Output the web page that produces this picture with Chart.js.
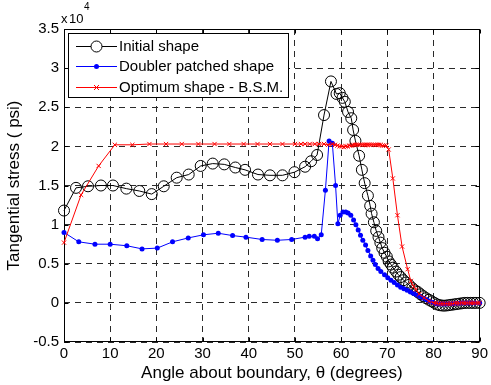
<!DOCTYPE html>
<html>
<head>
<meta charset="utf-8">
<script src="https://cdn.jsdelivr.net/npm/chart.js@4"></script>
<style>
  html, body { margin: 0; padding: 0; background: #fff; }
</style>
</head>
<body>
<canvas id="stress" width="491" height="385"></canvas>
<script>
// tangential stress, in units of 10^4 psi, vs angle about boundary (degrees)
const initialAngle = [0, 2.6, 5.2, 8.0, 10.6, 13.5, 16.3, 19.0, 21.6, 24.4,
  27.0, 29.6, 32.2, 34.7, 37.1, 39.2, 42.0, 44.6, 47.3, 49.9,
  52.2, 53.5, 54.8, 56.3, 57.8, 59.0, 59.7, 60.3, 60.8, 61.5,
  62.2, 62.6, 63.1, 63.9, 64.5, 65.1, 65.8, 66.3, 66.6, 67.1,
  67.6, 68.1, 68.5, 68.9, 69.4, 69.9, 70.3, 70.8, 71.2, 71.9,
  72.4, 72.9, 73.5, 74.1, 74.7, 75.4, 76.0, 76.6, 77.2, 77.8,
  78.4, 79.0, 79.6, 80.2, 80.8, 81.4, 82.0, 82.6, 83.2, 83.8,
  84.4, 85.0, 85.6, 86.2, 86.8, 87.4, 88.0, 88.6, 89.2, 90];
const initialStress = [1.18, 1.47, 1.49, 1.50, 1.50, 1.46, 1.43, 1.39, 1.49, 1.60,
  1.64, 1.75, 1.78, 1.77, 1.73, 1.70, 1.64, 1.63, 1.63, 1.67,
  1.74, 1.81, 1.89, 2.40, 2.83, 2.67, 2.68, 2.62, 2.57, 2.44,
  2.36, 2.21, 2.07, 1.88, 1.70, 1.53, 1.37, 1.24, 1.14, 1.03,
  0.92, 0.84, 0.77, 0.70, 0.64, 0.59, 0.53, 0.49, 0.45, 0.40,
  0.36, 0.33, 0.29, 0.26, 0.23, 0.19, 0.16, 0.14, 0.11, 0.085,
  0.06, 0.04, 0.02, 0.0, -0.02, -0.03, -0.035, -0.035, -0.03, -0.025,
  -0.02, -0.015, -0.01, -0.005, 0.0, 0.0, 0.0, 0.0, 0.0, 0.0];

const doublerAngle = [0, 3.2, 6.7, 10.0, 13.6, 16.9, 20.2, 23.5, 26.9, 30.2,
  33.4, 36.5, 39.4, 42.9, 46.2, 49.3, 52.2, 53.1, 54.2, 54.9,
  55.7, 56.6, 57.4, 58.1, 58.8, 59.3, 59.8, 60.4, 61.0, 61.5,
  62.1, 62.7, 63.2, 63.7, 64.2, 64.7, 65.3, 65.8, 66.4, 66.9,
  67.4, 68.0, 68.6, 69.4, 70.1, 70.8, 71.5, 72.2, 72.9, 73.6,
  74.3, 75.0, 75.7, 76.4, 77.1, 77.8, 78.5, 79.2, 79.9, 80.6,
  81.3, 82.0, 82.7, 83.4, 84.1, 84.8, 85.5, 86.2, 86.9, 87.6,
  88.3, 89.0, 90];
const doublerStress = [0.90, 0.78, 0.75, 0.75, 0.73, 0.69, 0.70, 0.78, 0.83, 0.87,
  0.89, 0.86, 0.84, 0.81, 0.80, 0.81, 0.84, 0.85, 0.85, 0.82,
  0.87, 1.44, 2.07, 2.04, 1.50, 1.01, 1.12, 1.16, 1.16, 1.15,
  1.12, 1.06, 1.00, 0.93, 0.865, 0.80, 0.74, 0.67, 0.60, 0.545,
  0.49, 0.44, 0.40, 0.36, 0.32, 0.29, 0.26, 0.23, 0.20, 0.18,
  0.16, 0.14, 0.12, 0.10, 0.08, 0.06, 0.04, 0.02, 0.005, -0.01,
  -0.015, -0.015, -0.015, -0.01, -0.01, -0.005, -0.005, 0.0, 0.0, 0.0,
  0.0, 0.0, 0.0];

const optimumAngle = [0, 3.7, 7.5, 11.0, 14.8, 18.5, 22.1, 25.5, 29.1, 32.6,
  35.8, 38.9, 41.9, 44.6, 47.3, 50.0, 51.3, 52.2, 53.2, 54.3,
  55.2, 56.3, 57.2, 58.1, 58.7, 59.2, 59.7, 60.2, 60.6, 61.0,
  61.4, 61.8, 62.2, 62.6, 63.0, 63.4, 63.8, 64.2, 64.6, 65.0,
  65.4, 65.8, 66.2, 66.6, 67.0, 67.4, 67.8, 68.2, 68.6, 69.0,
  69.4, 69.8, 70.3, 71.2, 72.2, 73.2, 74.4, 75.1, 75.7, 76.2,
  76.9, 78.0, 79.0, 80.1, 80.6, 81.1, 81.6, 82.1, 82.6, 83.1,
  83.6, 84.1, 84.6, 85.1, 85.6, 86.1, 86.6, 87.1, 87.6, 88.1,
  88.6, 89.1, 89.6, 90];
const optimumStress = [0.77, 1.38, 1.75, 2.02, 2.02, 2.03, 2.03, 2.03, 2.03, 2.03,
  2.03, 2.03, 2.03, 2.03, 2.03, 2.03, 2.03, 2.03, 2.03, 2.03,
  2.03, 2.03, 2.02, 2.03, 2.02, 2.01, 2.00, 2.00, 1.99, 2.00,
  2.00, 2.01, 2.01, 2.02, 2.02, 2.02, 2.02, 2.02, 2.02, 2.02,
  2.02, 2.02, 2.02, 2.02, 2.02, 2.02, 2.02, 2.02, 2.02, 2.01,
  2.01, 2.01, 1.96, 1.59, 1.12, 0.72, 0.43, 0.28, 0.21, 0.17,
  0.11, 0.064, 0.02, 0.0, -0.005, -0.01, -0.01, -0.01, -0.01, -0.01,
  -0.01, -0.01, -0.005, -0.005, -0.005, 0.0, 0.0, 0.0, 0.0, 0.0,
  0.0, 0.0, 0.0, 0.0];

const seriesNames = ["Initial shape", "Doubler patched shape", "Optimum shape - B.S.M."];
const seriesColors = ["#000000", "#0000ff", "#ff0000"];
const xTicks = [0, 10, 20, 30, 40, 50, 60, 70, 80, 90];
const yTicks = [-0.5, 0, 0.5, 1, 1.5, 2, 2.5, 3, 3.5];

const FONT = "Arial, 'Liberation Sans', Helvetica, sans-serif";

const pts = (xs, ys) => xs.map((x, i) => ({ x: x, y: ys[i] }));

// matlab-ish box, inward ticks, exponent label and legend
const matlabBits = {
  id: "matlabBits",
  beforeDatasetsDraw(chart) {
    const { ctx, chartArea: a, scales } = chart;
    const L = Math.round(a.left) + 0.5, R = Math.round(a.right) - 0.5;
    const T = Math.round(a.top) + 0.5, B = Math.round(a.bottom) - 0.5;
    ctx.save();
    ctx.setLineDash([]);
    ctx.strokeStyle = "#000";
    ctx.lineWidth = 1;
    ctx.strokeRect(L, T, R - L, B - T);
    ctx.beginPath();
    xTicks.forEach(v => {
      const px = Math.round(scales.x.getPixelForValue(v)) + 0.5;
      ctx.moveTo(px, B); ctx.lineTo(px, B - 4);
      ctx.moveTo(px, T); ctx.lineTo(px, T + 4);
    });
    yTicks.forEach(v => {
      const py = Math.round(scales.y.getPixelForValue(v)) + 0.5;
      ctx.moveTo(L, py); ctx.lineTo(L + 4, py);
      ctx.moveTo(R, py); ctx.lineTo(R - 4, py);
    });
    ctx.stroke();
    ctx.restore();
  },
  afterDraw(chart) {
    const { ctx } = chart;
    ctx.save();
    ctx.setLineDash([]);
    // x 10^4
    ctx.fillStyle = "#000";
    ctx.textBaseline = "alphabetic";
    ctx.font = "13px " + FONT;
    ctx.fillText("x", 61, 23);
    ctx.fillText("10", 69, 23);
    ctx.font = "10px " + FONT;
    ctx.fillText("4", 84, 10);

    // legend box
    const bx = 68.5, by = 33.5, bw = 220, bh = 64;
    ctx.fillStyle = "#fff";
    ctx.fillRect(bx, by, bw, bh);
    ctx.strokeStyle = "#000";
    ctx.lineWidth = 1;
    ctx.strokeRect(bx, by, bw, bh);
    const rows = [46, 66, 87];
    ctx.font = "15px " + FONT;
    ctx.textBaseline = "middle";
    for (let i = 0; i < rows.length; i++) {
      const col = seriesColors[i];
      const my = rows[i] + 0.5, mx = 96.5;
      ctx.fillStyle = col;
      ctx.fillRect(76, rows[i], 41, 1);
      if (i === 0) {
        ctx.strokeStyle = col;
        ctx.beginPath();
        ctx.arc(mx, my, 5.5, 0, Math.PI * 2);
        ctx.fillStyle = "#fff";
        ctx.fill();
        ctx.stroke();
      } else if (i === 1) {
        ctx.fillStyle = col;
        ctx.beginPath();
        ctx.arc(mx, my, 2.5, 0, Math.PI * 2);
        ctx.fill();
      } else {
        ctx.strokeStyle = col;
        ctx.beginPath();
        ctx.moveTo(mx - 2.5, my - 2.5); ctx.lineTo(mx + 2.5, my + 2.5);
        ctx.moveTo(mx - 2.5, my + 2.5); ctx.lineTo(mx + 2.5, my - 2.5);
        ctx.stroke();
      }
      ctx.fillStyle = "#000";
      ctx.fillText(seriesNames[i], 119, rows[i] + 1);
    }
    ctx.restore();
  }
};

new Chart(document.getElementById("stress"), {
  type: "line",
  data: {
    datasets: [
      {
        label: seriesNames[0],
        data: pts(initialAngle, initialStress),
        borderColor: seriesColors[0],
        backgroundColor: "rgba(0,0,0,0)",
        borderWidth: 1,
        pointStyle: "circle",
        pointRadius: 5.5,
        pointBorderWidth: 1,
        order: 3,
        clip: false
      },
      {
        label: seriesNames[1],
        data: pts(doublerAngle, doublerStress),
        borderColor: seriesColors[1],
        backgroundColor: seriesColors[1],
        borderWidth: 1,
        pointStyle: "circle",
        pointRadius: 2.5,
        pointBorderWidth: 0,
        order: 2,
        clip: false
      },
      {
        label: seriesNames[2],
        data: pts(optimumAngle, optimumStress),
        borderColor: seriesColors[2],
        backgroundColor: seriesColors[2],
        borderWidth: 1,
        pointStyle: "crossRot",
        pointRadius: 3,
        pointBorderWidth: 1,
        order: 1,
        clip: false
      }
    ]
  },
  options: {
    responsive: false,
    animation: false,
    devicePixelRatio: 1,
    layout: { padding: { top: 29, right: 8, left: 0, bottom: 0 } },
    plugins: { legend: { display: false }, tooltip: { enabled: false } },
    elements: { line: { tension: 0 } },
    scales: {
      x: {
        type: "linear",
        min: 0,
        max: 90,
        afterFit: s => { s.height = 43; },
        afterBuildTicks: s => { s.ticks = xTicks.map(v => ({ value: v })); },
        ticks: { color: "#000", font: { family: FONT, size: 15 }, padding: 3, maxRotation: 0 },
        grid: { color: "#2a2a2a", drawTicks: false },
        border: { display: false, dash: [6, 5] },
        title: {
          display: true,
          text: "Angle about boundary, \u03b8 (degrees)",
          color: "#000",
          font: { family: FONT, size: 17 },
          padding: { top: 0, bottom: 1 }
        }
      },
      y: {
        type: "linear",
        min: -0.5,
        max: 3.5,
        afterFit: s => { s.width = 64; },
        afterBuildTicks: s => { s.ticks = yTicks.map(v => ({ value: v })); },
        ticks: {
          color: "#000",
          font: { family: FONT, size: 15 },
          padding: 5,
          callback: v => String(v)
        },
        grid: { color: "#2a2a2a", drawTicks: false },
        border: { display: false, dash: [6, 5] },
        title: {
          display: true,
          text: "Tangential stress ( psi)",
          color: "#000",
          font: { family: FONT, size: 17 },
          padding: { top: 4, bottom: 0 }
        }
      }
    }
  },
  plugins: [matlabBits]
});
</script>
</body>
</html>
